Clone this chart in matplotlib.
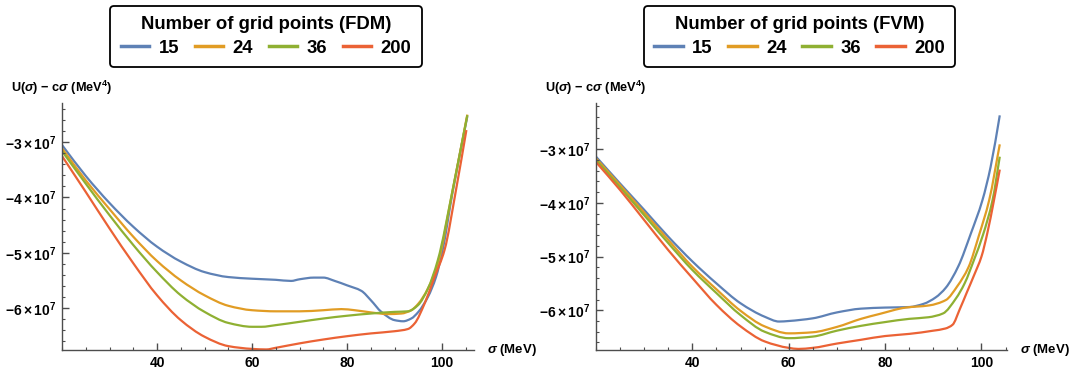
import numpy as np
import matplotlib
matplotlib.use("Agg")
import matplotlib.pyplot as plt
from matplotlib.path import Path
from matplotlib.patches import PathPatch
from matplotlib.lines import Line2D
from matplotlib.ticker import MultipleLocator, FuncFormatter

plt.rcParams["font.family"] = ["Liberation Sans", "DejaVu Sans"]
plt.rcParams["font.weight"] = "bold"
plt.rcParams["mathtext.fontset"] = "custom"
plt.rcParams["mathtext.rm"] = "Liberation Sans:bold"
plt.rcParams["mathtext.it"] = "Liberation Sans:italic:bold"
plt.rcParams["mathtext.bf"] = "Liberation Sans:bold"

# values are U(sigma) - c*sigma in units of 1e7 MeV^4
grid_labels = ["15", "24", "36", "200"]
colors = ["#5E81B5", "#E19C24", "#8FB032", "#EB6235"]

# FDM
fdm_x15 = [20, 25, 30, 35, 40, 45, 50, 55, 60, 65, 68.2, 70, 73, 75, 77.4, 80, 83, 85, 87.2, 90, 91.8, 93.5, 95, 97, 98.7, 100.1, 102.2, 105.3]
fdm_y15 = [-3.05, -3.61, -4.10, -4.53, -4.89, -5.16, -5.35, -5.44, -5.47, -5.49, -5.51, -5.48, -5.45, -5.45, -5.51, -5.59, -5.69, -5.86, -6.07, -6.22, -6.24, -6.19, -6.07, -5.80, -5.44, -4.95, -3.90, -2.53]
fdm_x24 = [20, 25, 30, 35, 40, 45, 50, 55, 60, 65, 70, 75, 78.8, 81.6, 85, 88.6, 91.4, 93.5, 95, 97, 99.1, 102.2, 105.3]
fdm_y24 = [-3.11, -3.69, -4.21, -4.71, -5.15, -5.50, -5.77, -5.96, -6.04, -6.06, -6.06, -6.04, -6.02, -6.04, -6.08, -6.11, -6.10, -6.04, -5.92, -5.65, -5.19, -3.87, -2.50]
fdm_x36 = [20, 25, 30, 35, 40, 45, 50, 55, 60, 62, 65, 70, 75, 80, 85, 90, 92.8, 94.9, 97, 99.1, 102.2, 105.3]
fdm_y36 = [-3.16, -3.75, -4.32, -4.86, -5.35, -5.77, -6.07, -6.27, -6.34, -6.34, -6.31, -6.25, -6.19, -6.14, -6.10, -6.07, -6.06, -5.95, -5.65, -5.13, -3.87, -2.51]
fdm_x200 = [20, 25, 30, 35, 40, 45, 50, 55, 60, 63, 65, 70, 75, 80, 85, 90, 92.8, 94.2, 96.3, 98.4, 100.5, 102.9, 105.1]
fdm_y200 = [-3.25, -3.90, -4.56, -5.19, -5.77, -6.22, -6.52, -6.69, -6.74, -6.75, -6.72, -6.64, -6.57, -6.51, -6.46, -6.42, -6.38, -6.28, -5.92, -5.44, -4.95, -3.87, -2.78]

# FVM
fvm_x15 = [20, 25, 30, 35, 40, 45, 50, 55, 58, 60, 65, 70, 75, 80, 85, 88, 90.5, 92.6, 95.2, 97.8, 100.2, 101.9, 103.8]
fvm_y15 = [-3.14, -3.64, -4.13, -4.63, -5.09, -5.50, -5.87, -6.12, -6.21, -6.20, -6.15, -6.04, -5.97, -5.95, -5.94, -5.88, -5.76, -5.58, -5.18, -4.57, -3.95, -3.33, -2.37]
fvm_x24 = [20, 25, 30, 35, 40, 45, 50, 55, 60, 65, 70, 75, 78.8, 84.3, 89.1, 92.6, 95, 97.3, 99.5, 101.6, 103.8]
fvm_y24 = [-3.17, -3.67, -4.18, -4.69, -5.19, -5.61, -6.01, -6.30, -6.43, -6.41, -6.31, -6.16, -6.07, -5.95, -5.91, -5.81, -5.55, -5.20, -4.60, -3.95, -2.91]
fvm_x36 = [20, 25, 30, 35, 40, 45, 50, 55, 60, 65, 70, 75, 80, 85, 89, 92, 94.7, 96.5, 98.5, 100.3, 102.3, 103.8]
fvm_y36 = [-3.20, -3.71, -4.23, -4.75, -5.25, -5.68, -6.09, -6.40, -6.52, -6.49, -6.38, -6.29, -6.22, -6.16, -6.13, -6.06, -5.78, -5.50, -5.05, -4.60, -3.95, -3.14]
fvm_x200 = [20, 25, 30, 35, 40, 45, 50, 55, 60, 62, 65, 70, 75, 80, 85, 90, 92.5, 94, 95.5, 97, 98.5, 100, 101.2, 102.6, 103.8]
fvm_y200 = [-3.24, -3.76, -4.32, -4.88, -5.40, -5.90, -6.30, -6.58, -6.70, -6.72, -6.70, -6.62, -6.55, -6.48, -6.44, -6.38, -6.34, -6.27, -5.98, -5.66, -5.34, -5.00, -4.57, -3.95, -3.38]

fdm = [(fdm_x15, fdm_y15), (fdm_x24, fdm_y24), (fdm_x36, fdm_y36), (fdm_x200, fdm_y200)]
fvm = [(fvm_x15, fvm_y15), (fvm_x24, fvm_y24), (fvm_x36, fvm_y36), (fvm_x200, fvm_y200)]

W, H = 1072, 371
fig = plt.figure(figsize=(W / 100, H / 100), dpi=100)

axis_col = "#4d4d4d"


def smooth_path(x, y):
    # monotone cubic (Fritsch-Carlson) segments through the read points, drawn as Beziers
    x = np.asarray(x, float)
    y = np.asarray(y, float)
    h = np.diff(x)
    d = np.diff(y) / h
    m = np.zeros_like(y)
    m[0], m[-1] = d[0], d[-1]
    for i in range(1, len(x) - 1):
        if d[i - 1] * d[i] > 0:
            w1 = 2 * h[i] + h[i - 1]
            w2 = h[i] + 2 * h[i - 1]
            m[i] = (w1 + w2) / (w1 / d[i - 1] + w2 / d[i])
    verts = [(x[0], y[0])]
    codes = [Path.MOVETO]
    for i in range(len(x) - 1):
        verts += [(x[i] + h[i] / 3, y[i] + m[i] * h[i] / 3),
                  (x[i + 1] - h[i] / 3, y[i + 1] - m[i + 1] * h[i] / 3),
                  (x[i + 1], y[i + 1])]
        codes += [Path.CURVE4] * 3
    return Path(verts, codes)


def ylab(v, pos):
    n = int(round(-v))
    return r"$-%d\times10^{7}$" % n


def panel(rect, series, xlim, ylim, method, legend_cx):
    ax = fig.add_axes(rect)
    handles = []
    for (x, y), c, lab in zip(series, colors, grid_labels):
        ax.add_patch(PathPatch(smooth_path(x, y), facecolor="none", edgecolor=c,
                               lw=1.6, capstyle="butt"))
        handles.append(Line2D([], [], color=c, lw=2.5, label=lab))
    ax.set_xlim(*xlim)
    ax.set_ylim(*ylim)
    for s in ["top", "right"]:
        ax.spines[s].set_visible(False)
    for s in ["left", "bottom"]:
        ax.spines[s].set_color(axis_col)
        ax.spines[s].set_linewidth(1.0)
    ax.set_xticks([40, 60, 80, 100])
    ax.xaxis.set_minor_locator(MultipleLocator(5))
    ax.set_yticks([-6, -5, -4, -3])
    ax.yaxis.set_minor_locator(MultipleLocator(0.2))
    ax.yaxis.set_major_formatter(FuncFormatter(ylab))
    ax.tick_params(which="major", direction="in", length=5, width=1.0,
                   color=axis_col, labelsize=10, pad=4)
    ax.tick_params(which="minor", direction="in", length=2.5, width=0.8,
                   color=axis_col)
    for t in ax.get_xticklabels() + ax.get_yticklabels():
        t.set_fontweight("bold")
    ax.patch.set_alpha(0)

    ax.text(1.032, 0.0, r"$\sigma$ (MeV)", transform=ax.transAxes,
            ha="left", va="center", fontsize=9.5, fontweight="bold")
    ax.text(0.0, 1.062, r"U($\sigma$) $-$ c$\sigma$ (MeV$^{4}$)", transform=ax.transAxes,
            ha="center", va="center", fontsize=9.2, fontweight="bold")

    leg = ax.legend(handles=handles, loc="center", bbox_to_anchor=(legend_cx, 1 - 36.5 / H),
                    bbox_transform=fig.transFigure, ncol=4,
                    title="Number of grid points (%s)" % method,
                    prop={"size": 13.3, "weight": "bold"},
                    handlelength=1.55, handletextpad=0.5, columnspacing=0.85,
                    borderpad=0.55, labelspacing=0.35, frameon=True, fancybox=True)
    leg.get_title().set_fontsize(13.3)
    leg.get_title().set_fontweight("bold")
    fr = leg.get_frame()
    fr.set_edgecolor("black")
    fr.set_linewidth(1.3)
    fr.set_alpha(1)
    return ax


panel([62 / W, 1 - 350 / H, 412 / W, 247 / H], fdm, (20, 106.7), (-6.76, -2.29), "FDM", 266 / W)
panel([596 / W, 1 - 350 / H, 411 / W, 247 / H], fvm, (20, 105.3), (-6.74, -2.14), "FVM", 799.5 / W)

fig.savefig("out.png", dpi=100, facecolor="white")
